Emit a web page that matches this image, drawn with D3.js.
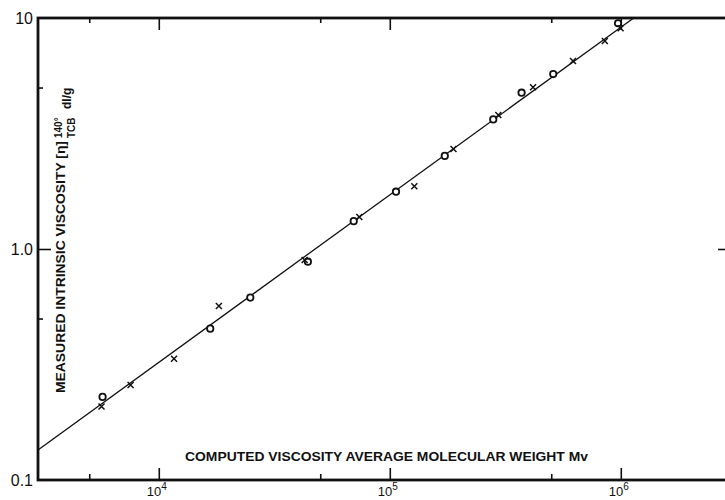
<!DOCTYPE html>
<html>
<head>
<meta charset="utf-8">
<script src="https://cdn.jsdelivr.net/npm/d3@7"></script>
<style>
  body { margin: 0; background: #fff; }
  text { font-family: "Liberation Sans", Arial, sans-serif; fill: #111; }
</style>
</head>
<body>
<div id="chart"></div>
<script>
var svgWidth = 725;
var svgHeight = 500;

// data
var circleM   = [5710, 16700, 24900, 44200, 69800, 106400, 173000, 280500, 372000, 510000, 973000];
var circleEta = [0.229, 0.452, 0.616, 0.881, 1.32, 1.77, 2.53, 3.64, 4.75, 5.72, 9.49];
var crossM    = [5650, 7550, 11640, 18200, 42800, 73800, 127700, 188700, 295000, 417000, 621000, 853000, 998000];
var crossEta  = [0.208, 0.258, 0.335, 0.567, 0.896, 1.375, 1.87, 2.71, 3.80, 5.01, 6.51, 7.95, 9.03];
// fitted line end points
var fitM   = [3000, 1137000];
var fitEta = [0.1349, 10];

var xMajor = [1e4, 1e5, 1e6];
var xMinor = [5000, 5e4, 5e5];
var xLabelExp = ["4", "5", "6"];
var yMajor = [1];
var yMinor = [0.5, 5];
var yLabels = [[10, "10"], [1, "1.0"], [0.1, "0.1"]];

var svg = d3.select("#chart")
  .append("svg")
  .attr("width", svgWidth)
  .attr("height", svgHeight);

var x = d3.scaleLog().domain([3000, 3e6]).range([38, 731]);
var y = d3.scaleLog().domain([0.1, 10]).range([480, 18]);

// ticks, inward on every side
function tickAxis(axis, vals, size, tr) {
  var g = svg.append("g")
    .attr("transform", tr)
    .call(axis.tickValues(vals).tickSize(size).tickFormat(""));
  g.select(".domain").remove();
  g.selectAll("line").attr("stroke", "#111").attr("stroke-width", 1.6);
}
tickAxis(d3.axisTop(x), xMajor, 12, "translate(0,480)");
tickAxis(d3.axisTop(x), xMinor, 6, "translate(0,480)");
tickAxis(d3.axisBottom(x), xMajor, 12, "translate(0,18)");
tickAxis(d3.axisBottom(x), xMinor, 5, "translate(0,18)");
tickAxis(d3.axisRight(y), yMajor, 13, "translate(38,0)");
tickAxis(d3.axisRight(y), yMinor, 5, "translate(38,0)");
tickAxis(d3.axisLeft(y), yMajor, 13, "translate(731,0)");

// frame
svg.append("rect")
  .attr("x", x(3000)).attr("y", y(10))
  .attr("width", x(3e6) - x(3000)).attr("height", y(0.1) - y(10))
  .attr("fill", "none").attr("stroke", "#111").attr("stroke-width", 2.8);

// fitted line
var line = d3.line()
  .x(function(d) { return x(d[0]); })
  .y(function(d) { return y(d[1]); });
svg.append("path")
  .datum(d3.zip(fitM, fitEta))
  .attr("d", line)
  .attr("fill", "none").attr("stroke", "#111").attr("stroke-width", 1.3);

// circles
svg.selectAll("circle.pt")
  .data(d3.zip(circleM, circleEta))
  .enter().append("circle")
  .attr("class", "pt")
  .attr("cx", d => x(d[0]))
  .attr("cy", d => y(d[1]))
  .attr("r", 3.2)
  .attr("fill", "#fff")
  .attr("stroke", "#111")
  .attr("stroke-width", 1.8);

// crosses
var crosses = svg.selectAll("g.cross")
  .data(d3.zip(crossM, crossEta))
  .enter().append("g")
  .attr("class", "cross")
  .attr("transform", d => `translate(${x(d[0])},${y(d[1])})`);
crosses.append("path")
  .attr("d", "M-3,-3L3,3M-3,3L3,-3")
  .attr("stroke", "#111").attr("stroke-width", 1.5);

// y tick labels
svg.selectAll("text.ylab")
  .data(yLabels)
  .enter().append("text")
  .attr("class", "ylab")
  .attr("x", 33)
  .attr("y", d => y(d[0]) + 6)
  .attr("text-anchor", "end")
  .attr("font-size", 16)
  .text(d => d[1]);

// x tick labels 10^n
var xl = svg.selectAll("text.xlab")
  .data(d3.zip(xMajor, xLabelExp))
  .enter().append("text")
  .attr("class", "xlab")
  .attr("x", d => x(d[0]) - 12)
  .attr("y", 496)
  .attr("font-size", 13);
xl.append("tspan").text("10");
xl.append("tspan").attr("dy", -6).attr("font-size", 10).text(d => d[1]);

// x title
svg.append("text")
  .attr("x", 185).attr("y", 461)
  .attr("font-size", 13)
  .attr("font-weight", "bold")
  .attr("textLength", 403)
  .attr("lengthAdjust", "spacingAndGlyphs")
  .text("COMPUTED VISCOSITY AVERAGE MOLECULAR WEIGHT Mv");

// y title
var yt = svg.append("g").attr("transform", "translate(65,393) rotate(-90)");
yt.append("text")
  .attr("x", 0).attr("y", 0)
  .attr("font-size", 13)
  .attr("font-weight", "bold")
  .attr("textLength", 252)
  .attr("lengthAdjust", "spacingAndGlyphs")
  .text("MEASURED INTRINSIC VISCOSITY [\u03B7]");
yt.append("text")
  .attr("x", 255).attr("y", -3)
  .attr("font-size", 10).attr("font-weight", "bold")
  .text("140\u00B0");
yt.append("text")
  .attr("x", 255).attr("y", 10)
  .attr("font-size", 10).attr("font-weight", "bold")
  .text("TCB");
yt.append("text")
  .attr("x", 284).attr("y", 6)
  .attr("font-size", 12).attr("font-weight", "bold")
  .text("dl/g");
</script>
</body>
</html>
